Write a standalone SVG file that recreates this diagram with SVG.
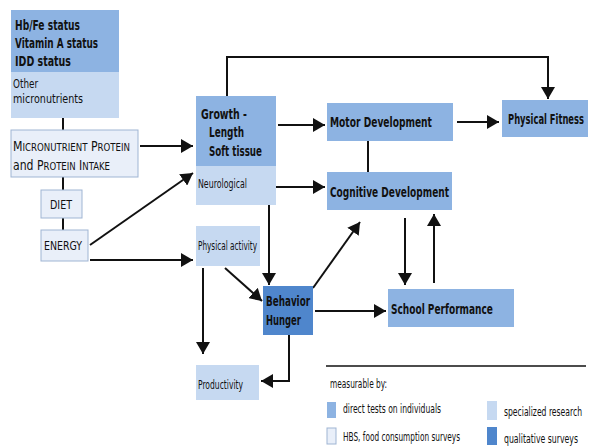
<svg xmlns="http://www.w3.org/2000/svg" width="592" height="446" viewBox="0 0 592 446">
<style>
text{font-family:"DejaVu Sans Condensed","DejaVu Sans","Liberation Sans",sans-serif;fill:#111}
.b{font-weight:bold;font-size:14.5px}
.s{font-size:12.5px}
.m{fill:#8db3e2}
.l{fill:#c6d9f1}
.w{fill:#e9eff9;stroke:#9fb5d3;stroke-width:1}
.d{fill:#4f86cc}
.c{stroke:#111;stroke-width:2;fill:none}
</style>
<defs>
<marker id="a" markerUnits="userSpaceOnUse" markerWidth="14" markerHeight="14" refX="12" refY="7" orient="auto">
<path d="M0,0 L12,7 L0,14 Z" fill="#111"/>
</marker>
</defs>
<rect width="592" height="446" fill="#fff"/>
<g id="connectors">
<path class="c" d="M63,118 V130 M63,177 V190 M63,218 V230"/>
<path class="c" d="M140,146 H193" marker-end="url(#a)"/>
<path class="c" d="M90,245 L193,173" marker-end="url(#a)"/>
<path class="c" d="M90,260 H193" marker-end="url(#a)"/>
<path class="c" d="M227,96 V57 H548 V99" marker-end="url(#a)"/>
<path class="c" d="M278,125 H325" marker-end="url(#a)"/>
<path class="c" d="M457,122 H499" marker-end="url(#a)"/>
<path class="c" d="M368,141 V172"/>
<path class="c" d="M275,187 H325" marker-end="url(#a)"/>
<path class="c" d="M269,205 V285" marker-end="url(#a)"/>
<path class="c" d="M225,268 L262,301" marker-end="url(#a)"/>
<path class="c" d="M203,268 V354" marker-end="url(#a)"/>
<path class="c" d="M313,288 L360,222" marker-end="url(#a)"/>
<path class="c" d="M315,311 H386" marker-end="url(#a)"/>
<path class="c" d="M405,218 V285" marker-end="url(#a)"/>
<path class="c" d="M434,283 V214" marker-end="url(#a)"/>
<path class="c" d="M289,335 V381 H261" marker-end="url(#a)"/>
</g>
<g id="status">
<rect class="m" x="11" y="10" width="108" height="62"/>
<rect class="l" x="11" y="72" width="108" height="46"/>
<text class="b" transform="translate(15,30) scale(0.66,1)" textLength="98.5" lengthAdjust="spacingAndGlyphs">Hb/Fe status</text>
<text class="b" transform="translate(15,48) scale(0.66,1)" textLength="125.8" lengthAdjust="spacingAndGlyphs">Vitamin A status</text>
<text class="b" transform="translate(15,66) scale(0.66,1)" textLength="84.8" lengthAdjust="spacingAndGlyphs">IDD status</text>
<text class="s" transform="translate(13,88) scale(0.66,1)" textLength="37.9" lengthAdjust="spacingAndGlyphs">Other</text>
<text class="s" transform="translate(13,103) scale(0.66,1)" textLength="106.1" lengthAdjust="spacingAndGlyphs">micronutrients</text>
</g>
<g id="intake">
<rect class="w" x="11" y="130" width="127" height="47"/>
<text font-size="14" transform="translate(13,151) scale(0.66,1)" textLength="177.3" lengthAdjust="spacingAndGlyphs">M<tspan font-size="11">ICRONUTRIENT</tspan> P<tspan font-size="11">ROTEIN</tspan></text>
<text font-size="14" transform="translate(13,170) scale(0.66,1)" textLength="147" lengthAdjust="spacingAndGlyphs">and P<tspan font-size="11">ROTEIN</tspan> I<tspan font-size="11">NTAKE</tspan></text>
</g>
<g id="diet">
<rect class="w" x="41" y="190" width="41" height="28"/>
<text font-size="12.5" transform="translate(50,209) scale(0.66,1)" textLength="33.3" lengthAdjust="spacingAndGlyphs">DIET</text>
</g>
<g id="energy">
<rect class="w" x="41" y="230" width="47" height="31"/>
<text font-size="12.5" transform="translate(44,250) scale(0.66,1)" textLength="57.6" lengthAdjust="spacingAndGlyphs">ENERGY</text>
</g>
<g id="growth">
<rect class="m" x="196" y="96" width="80" height="70"/>
<rect class="l" x="196" y="166" width="80" height="39"/>
<text class="b" transform="translate(201,119) scale(0.66,1)" textLength="69.7" lengthAdjust="spacingAndGlyphs">Growth -</text>
<text class="b" transform="translate(209,137) scale(0.66,1)" textLength="53" lengthAdjust="spacingAndGlyphs">Length</text>
<text class="b" transform="translate(209,156) scale(0.66,1)" textLength="80.3" lengthAdjust="spacingAndGlyphs">Soft tissue</text>
<text class="s" transform="translate(198,188) scale(0.66,1)" textLength="74.2" lengthAdjust="spacingAndGlyphs">Neurological</text>
</g>
<g id="motor">
<rect class="m" x="327" y="103" width="126" height="38"/>
<text class="b" transform="translate(330,127) scale(0.66,1)" textLength="154.5" lengthAdjust="spacingAndGlyphs">Motor Development</text>
</g>
<g id="fitness">
<rect class="m" x="502" y="100" width="86" height="37"/>
<text class="b" transform="translate(508,124) scale(0.66,1)" textLength="115.2" lengthAdjust="spacingAndGlyphs">Physical Fitness</text>
</g>
<g id="cognitive">
<rect class="m" x="327" y="172" width="125" height="38"/>
<text class="b" transform="translate(330,197) scale(0.66,1)" textLength="180.3" lengthAdjust="spacingAndGlyphs">Cognitive Development</text>
</g>
<g id="activity">
<rect class="l" x="196" y="226" width="64" height="40"/>
<text class="s" transform="translate(198,250) scale(0.66,1)" textLength="89.4" lengthAdjust="spacingAndGlyphs">Physical activity</text>
</g>
<g id="behavior">
<rect class="d" x="263" y="286" width="50" height="49"/>
<text class="b" transform="translate(266,306) scale(0.66,1)" textLength="66.7" lengthAdjust="spacingAndGlyphs">Behavior</text>
<text class="b" transform="translate(266,325) scale(0.66,1)" textLength="53" lengthAdjust="spacingAndGlyphs">Hunger</text>
</g>
<g id="school">
<rect class="m" x="388" y="289" width="126" height="38"/>
<text class="b" transform="translate(391,314) scale(0.66,1)" textLength="154.5" lengthAdjust="spacingAndGlyphs">School Performance</text>
</g>
<g id="productivity">
<rect class="l" x="196" y="365" width="63" height="35"/>
<text class="s" transform="translate(198,389) scale(0.66,1)" textLength="68.2" lengthAdjust="spacingAndGlyphs">Productivity</text>
</g>
<g id="legend">
<path d="M326,366 H586" stroke="#111" stroke-width="1.5"/>
<text class="s" transform="translate(330,388) scale(0.66,1)" textLength="86.4" lengthAdjust="spacingAndGlyphs">measurable by:</text>
<rect class="m" x="327" y="402" width="9" height="16"/>
<text class="s" transform="translate(343,413) scale(0.66,1)" textLength="148.5" lengthAdjust="spacingAndGlyphs">direct tests on individuals</text>
<rect class="w" x="327" y="428" width="9" height="16"/>
<text class="s" transform="translate(343,441) scale(0.66,1)" textLength="177.3" lengthAdjust="spacingAndGlyphs">HBS, food consumption surveys</text>
<rect class="l" x="487" y="401" width="10" height="19"/>
<text class="s" transform="translate(504,416) scale(0.66,1)" textLength="118.2" lengthAdjust="spacingAndGlyphs">specialized research</text>
<rect class="d" x="487" y="427" width="10" height="18"/>
<text class="s" transform="translate(504,443) scale(0.66,1)" textLength="112.1" lengthAdjust="spacingAndGlyphs">qualitative surveys</text>
</g>
</svg>
